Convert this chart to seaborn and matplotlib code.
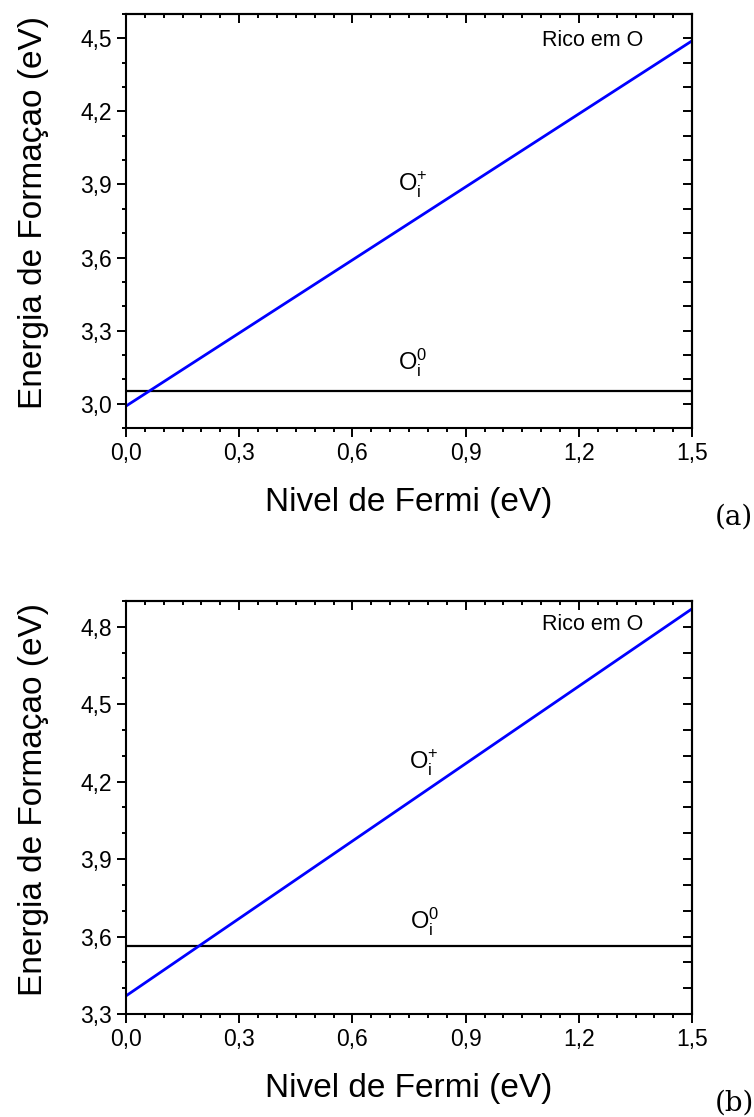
import numpy as np
import pandas as pd
import seaborn as sns
import matplotlib.pyplot as plt
from matplotlib.ticker import MultipleLocator, FuncFormatter

sns.set_style("ticks")
plt.rcParams['font.family'] = ['Liberation Sans', 'DejaVu Sans']
plt.rcParams['mathtext.fontset'] = 'custom'
plt.rcParams['mathtext.rm'] = 'Liberation Sans'
plt.rcParams['text.color'] = 'black'
plt.rcParams['axes.labelcolor'] = 'black'
plt.rcParams['xtick.color'] = 'black'
plt.rcParams['ytick.color'] = 'black'
plt.rcParams['axes.edgecolor'] = 'black'

# Fermi level endpoints (eV)
fermi = [0.0, 1.5]
# panel (a)
e_plus_a = [2.99, 4.49]
e_zero_a = [3.05, 3.05]
# panel (b)
e_plus_b = [3.37, 4.87]
e_zero_b = [3.565, 3.565]

ylims = [(2.9, 4.6), (3.3, 4.9)]
plus_pos = [(0.76, 3.90), (0.79, 4.275)]
zero_pos = [(0.76, 3.17), (0.79, 3.66)]
rico_y = [4.49, 4.81]
panel_tags = ['(a)', '(b)']

fig = plt.figure(figsize=(7.54, 11.17), dpi=100)
boxes = [[0.167, 0.6168, 0.751, 0.3707], [0.167, 0.0922, 0.751, 0.3698]]

def comma(v, pos):
    return ('%.1f' % v).replace('.', ',')

for i, (yp, y0) in enumerate([(e_plus_a, e_zero_a), (e_plus_b, e_zero_b)]):
    ax = fig.add_axes(boxes[i])
    df = pd.DataFrame({'x': fermi, 'plus': yp, 'zero': y0})
    sns.lineplot(data=df, x='x', y='zero', ax=ax, color='black', lw=1.6)
    sns.lineplot(data=df, x='x', y='plus', ax=ax, color='#0000ff', lw=2.0)
    ax.set_xlim(0, 1.5)
    ax.set_ylim(*ylims[i])
    ax.xaxis.set_major_locator(MultipleLocator(0.3))
    ax.xaxis.set_minor_locator(MultipleLocator(0.05))
    ax.yaxis.set_major_locator(MultipleLocator(0.3))
    ax.yaxis.set_minor_locator(MultipleLocator(0.1))
    ax.xaxis.set_major_formatter(FuncFormatter(comma))
    ax.yaxis.set_major_formatter(FuncFormatter(comma))
    ax.tick_params(which='both', direction='out', width=1.4, labelsize=16.5,
                   top=False, right=False)
    ax.tick_params(which='major', length=6.5)
    ax.tick_params(which='minor', length=3.2)
    # inward ticks on top/right
    axt = ax.secondary_xaxis('top')
    axt.xaxis.set_major_locator(MultipleLocator(0.3))
    axt.xaxis.set_minor_locator(MultipleLocator(0.05))
    axt.tick_params(which='both', direction='in', width=1.4, labeltop=False)
    axt.tick_params(which='major', length=6.5)
    axt.tick_params(which='minor', length=3.2)
    axr = ax.secondary_yaxis('right')
    axr.yaxis.set_major_locator(MultipleLocator(0.3))
    axr.yaxis.set_minor_locator(MultipleLocator(0.1))
    axr.tick_params(which='both', direction='in', width=1.4, labelright=False)
    axr.tick_params(which='major', length=6.5)
    axr.tick_params(which='minor', length=6.5)
    for s in ax.spines.values():
        s.set_linewidth(1.5)
    for s in list(axt.spines.values()) + list(axr.spines.values()):
        s.set_linewidth(1.5)
    ax.set_xlabel('Nivel de Fermi (eV)', fontsize=24, labelpad=16)
    ax.set_ylabel('Energia de Formaçao (eV)', fontsize=24)
    ax.yaxis.set_label_coords(-0.135, 0.52)
    ax.text(*plus_pos[i], r'O$_\mathregular{i}^\mathregular{+}$', fontsize=17,
            ha='center', va='center')
    ax.text(*zero_pos[i], r'O$_\mathregular{i}^\mathregular{0}$', fontsize=17,
            ha='center', va='center')
    ax.text(1.235, rico_y[i], 'Rico em O', fontsize=15.5, ha='center', va='center')
    ax.text(1.04, -0.215, panel_tags[i], transform=ax.transAxes, fontsize=20,
            family='DejaVu Serif', ha='left', va='center')

plt.savefig('out.png', dpi=100)
